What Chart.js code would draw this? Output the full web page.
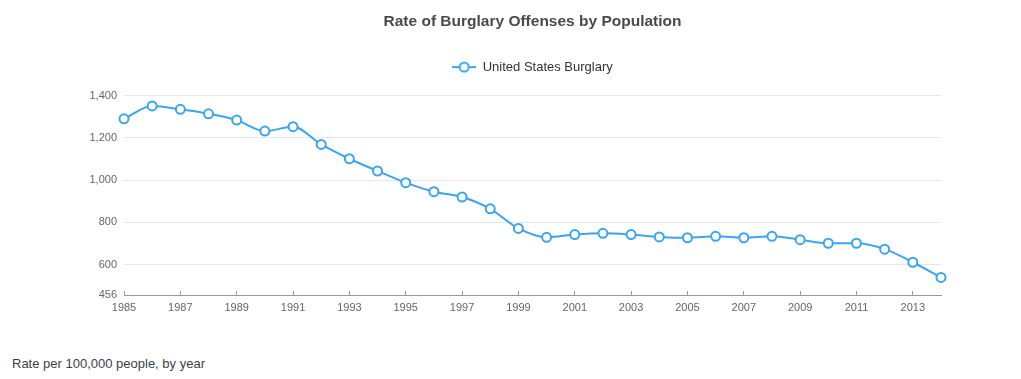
<!DOCTYPE html>
<html>
<head>
<meta charset="utf-8">
<script src="https://cdn.jsdelivr.net/npm/chart.js@4"></script>
<style>
  html, body { margin: 0; padding: 0; background: #fff; }
  #wrap { position: relative; width: 1021px; height: 379px; }
  #chartBox { position: absolute; left: 0; top: 0; width: 1021px; height: 330px; }
  .caption {
    position: absolute; left: 12px; top: 356px;
    font: 13px "Liberation Sans", Arial, Helvetica, sans-serif;
    color: #3a3f4a; line-height: 16px;
  }
</style>
</head>
<body>
<div id="wrap">
  <div id="chartBox"><canvas id="burglaryChart"></canvas></div>
  <div class="caption">Rate per 100,000 people, by year</div>
</div>
<script>
// Burglary rate, per 100,000 people
const years = [
  '1985', '1986', '1987', '1988', '1989', '1990', '1991', '1992', '1993', '1994',
  '1995', '1996', '1997', '1998', '1999', '2000', '2001', '2002', '2003', '2004',
  '2005', '2006', '2007', '2008', '2009', '2010', '2011', '2012', '2013', '2014',
];
const burglaryRate = [
  1290, 1351, 1335, 1314, 1284, 1232, 1253, 1169, 1101, 1043,
  988, 945, 920, 864, 771, 729, 742, 748, 742, 731,
  727, 734, 727, 734, 718, 701, 701, 673, 611, 539,
];
const yTicks = [456, 600, 800, 1000, 1200, 1400];

const LINE_BLUE = '#3DA5EF';
const FONT = '"Liberation Sans", Arial, Helvetica, sans-serif';

// legend marker: short line with hollow circle on it
function legendIcon() {
  const c = document.createElement('canvas');
  c.width = 24;
  c.height = 14;
  const g = c.getContext('2d');
  g.strokeStyle = LINE_BLUE;
  g.lineWidth = 2;
  g.beginPath();
  g.moveTo(0, 7);
  g.lineTo(24, 7);
  g.stroke();
  g.beginPath();
  g.arc(12, 7, 4.5, 0, Math.PI * 2);
  g.fillStyle = '#fff';
  g.fill();
  g.stroke();
  return c;
}

const icon = legendIcon();

// extra room under the legend, before the plot starts
const legendGap = {
  id: 'legendGap',
  beforeInit(chart) {
    const lg = chart.legend;
    if (!lg) return;
    const fit = lg.fit;
    lg.fit = function () {
      fit.call(this);
      this.height += 12;
    };
  },
};

new Chart(document.getElementById('burglaryChart'), {
  type: 'line',
  data: {
    labels: years,
    datasets: [{
      label: 'United States Burglary',
      data: burglaryRate,
      borderColor: LINE_BLUE,
      backgroundColor: '#fff',
      borderWidth: 2,
      pointRadius: 4.5,
      pointBorderWidth: 2,
      pointBackgroundColor: '#fff',
      pointBorderColor: LINE_BLUE,
      cubicInterpolationMode: 'monotone',
      fill: false,
    }],
  },
  plugins: [legendGap],
  options: {
    responsive: true,
    maintainAspectRatio: false,
    animation: false,
    layout: { padding: { left: 0, right: 80, top: 0, bottom: 0 } },
    plugins: {
      // not fullSize, so title and legend centre over the plot
      title: {
        display: true,
        fullSize: false,
        text: 'Rate of Burglary Offenses by Population',
        color: '#4a4a4a',
        font: { family: FONT, size: 15.5, weight: 'bold' },
        padding: { top: 12, bottom: 20 },
      },
      legend: {
        display: true,
        fullSize: false,
        position: 'top',
        labels: {
          color: '#333',
          font: { family: FONT, size: 13 },
          usePointStyle: true,
          pointStyleWidth: 24,
          generateLabels: () => [{
            text: 'United States Burglary',
            pointStyle: icon,
            fillStyle: '#fff',
            strokeStyle: LINE_BLUE,
            lineWidth: 0,
            fontColor: '#333',
            datasetIndex: 0,
          }],
        },
      },
      tooltip: { enabled: false },
    },
    scales: {
      x: {
        offset: false,
        border: { display: true, color: '#999', width: 1 },
        grid: {
          drawOnChartArea: false,
          drawTicks: true,
          tickLength: -4, // small marks point up into the plot
          color: (ctx) => (ctx.index % 2 === 0 ? '#999' : 'rgba(0,0,0,0)'),
        },
        ticks: {
          autoSkip: false,
          maxRotation: 0,
          color: '#666',
          padding: 10,
          font: { family: FONT, size: 11 },
          callback: (v, i) => (i % 2 === 0 ? years[i] : ''),
        },
        afterFit: (scale) => { scale.height = 35; },
      },
      y: {
        min: 456,
        max: 1400,
        border: { display: false },
        grid: { color: '#e6e6f2', drawTicks: false },
        ticks: {
          color: '#666',
          padding: 7,
          font: { family: FONT, size: 11 },
          callback: (v) => v.toLocaleString('en-US'),
        },
        afterBuildTicks: (scale) => {
          scale.ticks = yTicks.map(v => ({ value: v }));
        },
        afterFit: (scale) => { scale.width = 124; },
      },
    },
  },
});
</script>
</body>
</html>
